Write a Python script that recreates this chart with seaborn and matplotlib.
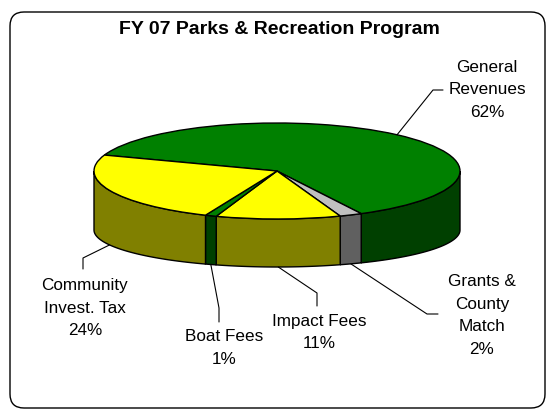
import numpy as np
import matplotlib
matplotlib.use("Agg")
import matplotlib.pyplot as plt
import matplotlib.transforms as mtransforms
from matplotlib.patches import FancyBboxPatch
import seaborn as sns

# ---- data ----
title = "FY 07 Parks & Recreation Program"
categories = ["General\nRevenues", "Grants &\nCounty\nMatch", "Impact Fees",
              "Boat Fees", "Community\nInvest. Tax"]
shares = [62, 2, 11, 1, 24]
top_colors = ["#008000", "#C0C0C0", "#FFFF00", "#008000", "#FFFF00"]
side_colors = ["#004000", "#606060", "#808000", "#004000", "#808000"]

# ---- layout (pixels) ----
label_pos = [(487, 90), (482, 315.5), (319, 332.5), (224, 348), (85, 308)]
elbows = [[(433, 90), (443, 90)], [(427, 314), (438, 314)],
          [(317, 293), (317, 306)], [(219, 308), (219, 322)],
          [(83, 258), (83, 269)]]
CX, CY, A, B = 277, 171, 183, 48      # top face ellipse
CY2, B2 = 230, 37                     # bottom face ellipse
START = 160.6

sns.set_theme(style="white")
plt.rcParams["font.family"] = ["Liberation Sans", "DejaVu Sans"]

fig = plt.figure(figsize=(5.48, 4.11), dpi=100)
fig.patch.set_facecolor("white")
ax = fig.add_axes([0, 0, 1, 1])

# top face via pie, squashed into an ellipse
wedges, _ = ax.pie(shares, colors=top_colors, startangle=START, counterclock=False,
                   wedgeprops=dict(edgecolor="black", linewidth=1.0))
to_top = mtransforms.Affine2D().scale(A, -B).translate(CX, CY)
for w in wedges:
    w.set_transform(to_top + ax.transData)
    w.set_zorder(3)

ax.set_aspect("auto")
ax.set_xlim(0, 548)
ax.set_ylim(411, 0)
ax.axis("off")

# side walls
total = float(sum(shares))
bounds = START - 360 * np.concatenate([[0], np.cumsum(shares)]) / total
for i in range(len(shares)):
    hi, lo = bounds[i], bounds[i + 1]
    for shift in (-360, 0, 360):
        t1 = max(lo + shift, -180)
        t2 = min(hi + shift, 0)
        if t2 > t1:
            t = np.radians(np.linspace(t1, t2, 80))
            xs = CX + A * np.cos(t)
            yt = CY - B * np.sin(t)
            yb = CY2 - B2 * np.sin(t)
            ax.fill(np.r_[xs, xs[::-1]], np.r_[yt, yb[::-1]], facecolor=side_colors[i],
                    edgecolor="black", linewidth=1.0, zorder=2)

# labels with leader lines
for i in range(len(shares)):
    mid = np.radians((bounds[i] + bounds[i + 1]) / 2)
    if np.sin(mid) < 0:
        ax_, ay_ = CX + A * np.cos(mid), CY2 - B2 * np.sin(mid)
    else:
        ax_, ay_ = CX + A * np.cos(mid), CY - B * np.sin(mid)
    pts = [(ax_, ay_)] + elbows[i]
    ax.plot([p[0] for p in pts], [p[1] for p in pts], color="black", lw=0.8, zorder=4)
    lx, ly = label_pos[i]
    ax.text(lx, ly, f"{categories[i]}\n{shares[i]}%", ha="center", va="center",
            fontsize=12.3, linespacing=1.62, color="black", zorder=5)

ax.text(279, 30, title, ha="center", va="center", fontsize=14, fontweight="bold",
        color="black")

frame = FancyBboxPatch((10, 12), 535, 396, boxstyle="round,pad=0,rounding_size=14",
                       facecolor="none", edgecolor="black", linewidth=1.0, zorder=6)
ax.add_patch(frame)

fig.savefig("out.png", dpi=100, facecolor="white")
